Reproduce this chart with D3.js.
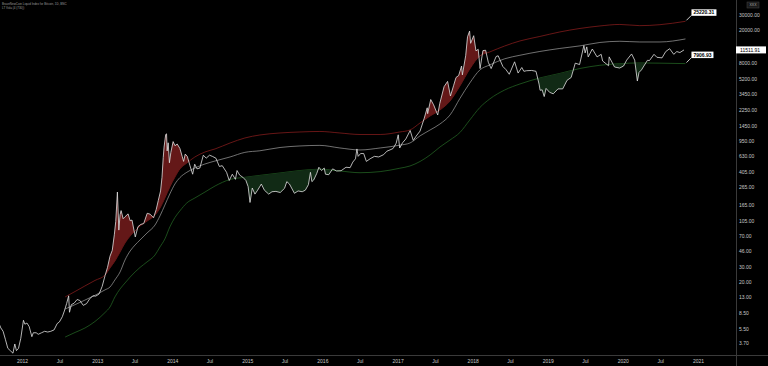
<!DOCTYPE html>
<html>
<head>
<meta charset="utf-8">
<script src="https://cdn.jsdelivr.net/npm/d3@7"></script>
<style>
  html, body { margin: 0; padding: 0; background: #000; }
  svg { display: block; }
  text { font-family: "Liberation Sans", Arial, sans-serif; }
</style>
</head>
<body>
<svg id="chart" width="768" height="366"></svg>
<script>
// price (daily close)
var priceDates = [
  "2011-09-10","2011-09-20","2011-10-01","2011-10-12","2011-10-24","2011-11-05","2011-11-18","2011-11-27",
  "2011-12-05","2011-12-15","2011-12-26","2012-01-08","2012-01-15","2012-01-25","2012-02-05","2012-02-18",
  "2012-02-25","2012-03-10","2012-03-20","2012-04-05","2012-04-20","2012-05-05","2012-05-20","2012-06-05",
  "2012-06-20","2012-07-01","2012-07-15","2012-07-25","2012-08-05","2012-08-15","2012-08-19","2012-08-28",
  "2012-09-10","2012-09-25","2012-10-08","2012-10-25","2012-11-10","2012-11-25","2012-12-10","2012-12-25",
  "2013-01-10","2013-01-25","2013-02-08","2013-02-20","2013-03-04","2013-03-15","2013-03-25","2013-04-01",
  "2013-04-09","2013-04-16","2013-04-22","2013-04-27","2013-05-07","2013-05-16","2013-05-31","2013-06-10",
  "2013-06-19","2013-07-05","2013-07-18","2013-08-01","2013-08-15","2013-09-01","2013-09-15","2013-10-02",
  "2013-10-15","2013-10-25","2013-11-05","2013-11-12","2013-11-18","2013-11-22","2013-11-30","2013-12-04",
  "2013-12-07","2013-12-12","2013-12-18","2013-12-25","2014-01-05","2014-01-14","2014-01-25","2014-02-07",
  "2014-02-18","2014-02-25","2014-03-05","2014-03-15","2014-03-28","2014-04-10","2014-04-20","2014-05-01",
  "2014-05-15","2014-06-01","2014-06-15","2014-07-01","2014-07-15","2014-08-01","2014-08-18","2014-09-01",
  "2014-09-22","2014-10-05","2014-10-20","2014-11-04","2014-11-12","2014-11-25","2014-12-10","2014-12-25",
  "2015-01-05","2015-01-14","2015-01-25","2015-02-07","2015-02-20","2015-03-10","2015-03-25","2015-04-15",
  "2015-05-01","2015-05-20","2015-06-10","2015-07-01","2015-07-12","2015-07-25","2015-08-18","2015-09-05",
  "2015-09-25","2015-10-10","2015-10-25","2015-11-04","2015-11-11","2015-11-20","2015-12-05","2015-12-15",
  "2015-12-28","2016-01-10","2016-01-16","2016-02-01","2016-02-20","2016-03-10","2016-04-01","2016-04-25",
  "2016-05-15","2016-05-28","2016-06-10","2016-06-17","2016-06-23","2016-07-05","2016-07-20","2016-08-02",
  "2016-08-20","2016-09-10","2016-10-01","2016-10-25","2016-11-10","2016-11-25","2016-12-10","2016-12-25",
  "2017-01-04","2017-01-11","2017-01-25","2017-02-10","2017-03-03","2017-03-18","2017-04-01","2017-04-20",
  "2017-05-10","2017-05-25","2017-05-27","2017-06-11","2017-06-25","2017-07-15","2017-07-25","2017-08-15",
  "2017-09-01","2017-09-15","2017-09-30","2017-10-12","2017-10-25","2017-11-08","2017-11-12","2017-11-28",
  "2017-12-07","2017-12-17","2017-12-22","2018-01-06","2018-01-17","2018-01-28","2018-02-06","2018-02-20",
  "2018-03-05","2018-03-18","2018-04-01","2018-04-25","2018-05-05","2018-05-28","2018-06-12","2018-06-28",
  "2018-07-24","2018-08-10","2018-08-28","2018-09-07","2018-09-20","2018-10-15","2018-11-05","2018-11-20",
  "2018-11-25","2018-12-05","2018-12-15","2018-12-24","2019-01-10","2019-01-28","2019-02-20","2019-03-15",
  "2019-04-05","2019-04-25","2019-05-15","2019-06-05","2019-06-26","2019-07-02","2019-07-10","2019-07-17",
  "2019-08-06","2019-08-29","2019-09-18","2019-09-25","2019-10-24","2019-10-27","2019-11-22","2019-12-17",
  "2020-01-05","2020-01-20","2020-02-13","2020-02-28","2020-03-12","2020-03-20","2020-04-01","2020-04-30",
  "2020-05-10","2020-06-01","2020-06-15","2020-07-10","2020-07-28","2020-08-16","2020-09-05","2020-09-20",
  "2020-10-05","2020-10-25"
];
var priceValues = [
  6.4, 5.6, 5.1, 4.1, 3.2, 3.0, 2.8, 3.6,
  3.0, 3.2, 4.2, 6.9, 6.2, 6.4, 5.8, 4.4,
  4.9, 4.9, 4.7, 4.9, 5.1, 5.0, 5.1, 5.3,
  6.3, 6.6, 7.6, 8.9, 10.9, 13.5, 8.6, 10.6,
  11.0, 12.2, 11.9, 10.4, 10.9, 12.4, 13.5, 13.4,
  14.2, 17.5, 23.5, 29.5, 40, 47, 72, 104,
  233, 82, 125, 140, 112, 118, 128, 106,
  108, 68, 90, 96, 98, 130, 127, 115,
  145, 185, 240, 350, 600, 800, 1130, 1150,
  720, 900, 520, 690, 930, 830, 870, 770,
  620, 540, 660, 620, 480, 380, 500, 440,
  450, 640, 590, 640, 620, 590, 470, 480,
  400, 320, 380, 330, 420, 370, 350, 320,
  270, 175, 260, 220, 245, 290, 245, 220,
  235, 237, 230, 258, 310, 290, 225, 240,
  235, 245, 285, 400, 310, 325, 390, 460,
  420, 450, 380, 375, 440, 415, 418, 460,
  455, 530, 580, 760, 620, 670, 670, 540,
  580, 620, 610, 650, 715, 740, 770, 890,
  1120, 780, 900, 1000, 1260, 960, 1080, 1240,
  1750, 2350, 2000, 2950, 2550, 1930, 2650, 4200,
  4850, 3250, 4300, 5400, 5700, 7400, 5800, 9800,
  16500, 19300, 13800, 17000, 11200, 11700, 6900, 11300,
  11400, 8200, 6900, 9600, 9800, 7300, 6700, 5900,
  8300, 6100, 7100, 6400, 6500, 6550, 6400, 4500,
  3800, 3850, 3200, 4000, 3600, 3450, 3950, 3950,
  5000, 5400, 8000, 7700, 13000, 10600, 12500, 9500,
  11800, 9500, 10200, 8500, 7450, 9500, 7200, 7000,
  7400, 8700, 10300, 8700, 4900, 6200, 6650, 8650,
  8600, 10200, 9400, 9250, 11000, 11900, 10200, 11000,
  10700, 11511.91
];

// bands
var bandDates = [
  "2012-07-29","2012-09-15","2012-11-02","2012-12-21","2013-02-08","2013-03-04","2013-03-28","2013-04-22",
  "2013-05-16","2013-06-10","2013-07-04","2013-07-28","2013-08-31","2013-10-09","2013-11-02","2013-11-26",
  "2013-12-20","2014-01-14","2014-02-07","2014-03-13","2014-04-21","2014-06-09","2014-07-28","2014-10-09",
  "2014-12-20","2015-03-03","2015-06-09","2015-09-14","2015-12-20","2016-03-26","2016-07-02","2016-10-08",
  "2017-01-12","2017-03-02","2017-04-20","2017-06-08","2017-07-26","2017-09-13","2017-10-31","2017-12-18",
  "2018-02-05","2018-03-25","2018-06-06","2018-08-19","2018-11-24","2019-03-01","2019-06-07","2019-09-12",
  "2019-12-18","2020-03-24","2020-06-30","2020-11-01"
];
var upperBand = [
  13.1, 15.2, 17.7, 20.6, 23.9, 29.0, 35.1, 45.0,
  57.6, 69.7, 80.0, 91.8, 105, 124, 150, 198,
  268, 352, 439, 517, 610, 699, 760, 895,
  1027, 1115, 1178, 1211, 1228, 1178, 1130, 1130,
  1211, 1279, 1550, 1878, 2215, 2836, 4280, 6823,
  9748, 10880, 12830, 14720, 16650, 18840, 20740, 22210,
  23150, 22400, 23000, 25220.31
];
var midBand = [
  9.41, 10.6, 12.0, 13.7, 15.9, 17.2, 20.9, 26.0,
  36.1, 46.2, 54.5, 62.5, 75.7, 94.3, 121, 163,
  221, 291, 346, 401, 451, 503, 546, 610,
  692, 723, 791, 825, 838, 781, 739, 781,
  843, 895, 1088, 1279, 1508, 1931, 3037, 4647,
  6641, 7615, 9029, 9938, 11030, 11980, 12860, 14120,
  14590, 14310, 14310, 15550
];
var lowerBand = [
  4.36, 4.94, 5.58, 6.68, 8.55, 9.94, 13.1, 16.3,
  19.2, 22.6, 26.0, 29.4, 34.2, 41.4, 51.6, 64.3,
  89.3, 116, 139, 173, 198, 233, 275, 329,
  349, 368, 393, 420, 436, 415, 396, 408,
  448, 476, 539, 644, 802, 972, 1194, 1683,
  2372, 2995, 3834, 4521, 5330, 6033, 6918, 7550,
  7900, 8050, 8000, 7906.93
];

var yTicks = [3.7, 5.5, 8.5, 13, 20, 30, 46, 70, 105, 165, 265, 405, 630, 950,
              1450, 2250, 3450, 5200, 8000, 12000, 20000, 30000];
var xTicks = ["2012-01-01","2012-07-01","2013-01-01","2013-07-01","2014-01-01","2014-07-01",
              "2015-01-01","2015-07-01","2016-01-01","2016-07-01","2017-01-01","2017-07-01",
              "2018-01-01","2018-07-01","2019-01-01","2019-07-01","2020-01-01","2020-07-01","2021-01-01"];

var parse = d3.timeParse("%Y-%m-%d");
var price = priceDates.map(function (d, i) { return { date: parse(d), value: priceValues[i] }; });
var bands = bandDates.map(function (d, i) {
  return { date: parse(d), upper: upperBand[i], mid: midBand[i], lower: lowerBand[i] };
});

var W = 768, H = 366, plotW = 736, plotH = 355;
var svg = d3.select("#chart");
svg.append("rect").attr("width", W).attr("height", H).attr("fill", "#000");

var x = d3.scaleTime()
  .domain([parse("2012-01-01"), parse("2021-01-01")])
  .range([22, 698]);
var y = d3.scaleLog()
  .domain([3.7, 30000])
  .range([343, 15]);

var defs = svg.append("defs");
defs.append("clipPath").attr("id", "plot")
  .append("rect").attr("width", plotW).attr("height", plotH);

// region above the upper band / below the lower band, used to clip the fills
defs.append("clipPath").attr("id", "aboveUpper")
  .append("path")
  .attr("d", d3.area().x(function (d) { return x(d.date); })
    .y0(function (d) { return y(d.upper); }).y1(0).curve(d3.curveMonotoneX)(bands));
defs.append("clipPath").attr("id", "belowLower")
  .append("path")
  .attr("d", d3.area().x(function (d) { return x(d.date); })
    .y0(function (d) { return y(d.lower); }).y1(plotH).curve(d3.curveMonotoneX)(bands));

var g = svg.append("g").attr("clip-path", "url(#plot)");

function bandLine(key) {
  return d3.line().x(function (d) { return x(d.date); })
    .y(function (d) { return y(d[key]); })
    .curve(d3.curveMonotoneX);
}

g.append("path").datum(bands).attr("d", bandLine("upper"))
  .attr("fill", "none").attr("stroke", "#8a1e1e").attr("stroke-width", 0.75);
g.append("path").datum(bands).attr("d", bandLine("mid"))
  .attr("fill", "none").attr("stroke", "#a0a0a0").attr("stroke-width", 0.7);
g.append("path").datum(bands).attr("d", bandLine("lower"))
  .attr("fill", "none").attr("stroke", "#246624").attr("stroke-width", 0.75);

// red fill: price above upper band
g.append("g").attr("clip-path", "url(#aboveUpper)")
  .append("path").datum(price)
  .attr("d", d3.area().x(function (d) { return x(d.date); })
    .y0(plotH).y1(function (d) { return y(d.value); }))
  .attr("fill", "#641818");

// green fill: price below lower band
g.append("g").attr("clip-path", "url(#belowLower)")
  .append("path").datum(price)
  .attr("d", d3.area().x(function (d) { return x(d.date); })
    .y0(0).y1(function (d) { return y(d.value); }))
  .attr("fill", "#112a15");

g.append("path").datum(price)
  .attr("d", d3.line().x(function (d) { return x(d.date); }).y(function (d) { return y(d.value); }))
  .attr("fill", "none").attr("stroke", "#e2e2e2").attr("stroke-width", 0.8)
  .attr("stroke-linejoin", "round");

// axes frame
svg.append("line").attr("x1", 0).attr("x2", W).attr("y1", plotH + 0.5).attr("y2", plotH + 0.5)
  .attr("stroke", "#3a3a3a");
svg.append("line").attr("x1", plotW + 0.5).attr("x2", plotW + 0.5).attr("y1", 0).attr("y2", H)
  .attr("stroke", "#3a3a3a");

var yAxis = svg.append("g").attr("transform", "translate(" + (plotW + 3) + ",0)")
  .call(d3.axisRight(y).tickValues(yTicks).tickSize(0).tickPadding(0).tickFormat(d3.format(".2f")));
yAxis.select(".domain").remove();
yAxis.selectAll("text").attr("fill", "#c8c8c8").attr("font-size", 5);

var xAxis = svg.append("g").attr("transform", "translate(0," + (plotH + 4) + ")")
  .call(d3.axisBottom(x).tickValues(xTicks.map(parse)).tickSize(0).tickPadding(0)
    .tickFormat(function (d) { return d.getMonth() === 0 ? d3.timeFormat("%Y")(d) : "Jul"; }));
xAxis.select(".domain").remove();
xAxis.selectAll("text").attr("fill", "#c8c8c8").attr("font-size", 5);

// last price tag
var last = price[price.length - 1];
svg.append("rect").attr("x", plotW).attr("y", y(last.value) - 3.5).attr("width", 30).attr("height", 7)
  .attr("fill", "#fff");
svg.append("text").attr("x", plotW + 4).attr("y", y(last.value)).attr("dy", "0.35em")
  .attr("font-size", 5).attr("fill", "#000").text(d3.format(".2f")(last.value));

// band end labels
function endLabel(val, w) {
  var bx = x(bands[bands.length - 1].date), by = y(val);
  svg.append("line").attr("x1", bx + 1).attr("y1", by - 1).attr("x2", bx + 6).attr("y2", by - 6)
    .attr("stroke", "#fff").attr("stroke-width", 0.8);
  svg.append("rect").attr("x", bx + 6).attr("y", by - 12).attr("width", w).attr("height", 6.5)
    .attr("fill", "#fff");
  svg.append("text").attr("x", bx + 8).attr("y", by - 8.7).attr("dy", "0.35em")
    .attr("font-size", 5).attr("font-weight", "bold").attr("fill", "#000").text(d3.format(".2f")(val));
}
endLabel(upperBand[upperBand.length - 1], 25);
endLabel(lowerBand[lowerBand.length - 1], 22);

// scale mode box
svg.append("rect").attr("x", 747).attr("y", 2).attr("width", 12).attr("height", 6)
  .attr("fill", "#1a1a1a").attr("stroke", "#444").attr("stroke-width", 0.5);
svg.append("text").attr("x", 753).attr("y", 5).attr("dy", "0.35em").attr("text-anchor", "middle")
  .attr("font-size", 3.5).attr("fill", "#aaa").text("XXX");

// title
svg.append("text").attr("x", 2).attr("y", 5).attr("font-size", 3).attr("fill", "#9a9a9a")
  .text("BraveNewCoin Liquid Index for Bitcoin, 1D, BNC");
svg.append("text").attr("x", 2).attr("y", 8.5).attr("font-size", 3).attr("fill", "#9a9a9a")
  .text("LT Vola (4 (730))");
</script>
</body>
</html>
